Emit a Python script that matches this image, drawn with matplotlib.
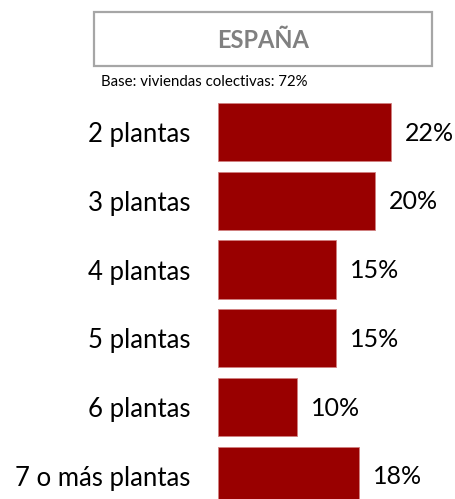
import matplotlib
matplotlib.use("Agg")
import matplotlib.pyplot as plt
from matplotlib.patches import Rectangle
from matplotlib.transforms import offset_copy

categories = ["2 plantas", "3 plantas", "4 plantas", "5 plantas", "6 plantas", "7 o más plantas"]
values = [22, 20, 15, 15, 10, 18]
value_labels = ["22%", "20%", "15%", "15%", "10%", "18%"]
title = "ESPAÑA"
subtitle = "Base: viviendas colectivas: 72%"

plt.rcParams['font.family'] = ['Lato', 'DejaVu Sans']

W, H = 456, 499
fig = plt.figure(figsize=(W / 100, H / 100), dpi=100)

# axes placement in pixels
ax_left, ax_right = 218, 456
ax_top, ax_bottom = 90, 499
ax = fig.add_axes([ax_left / W, 1 - ax_bottom / H, (ax_right - ax_left) / W, (ax_bottom - ax_top) / H])

pos = list(range(len(categories)))
ax.barh(pos, values, height=0.85, color="#990000", edgecolor="#d08080", linewidth=0.6)
ax.set_xlim(0, (ax_right - ax_left) / 7.85)
ax.set_ylim(5.339, -0.614)
ax.set_yticks(pos)
ax.set_yticklabels(categories, fontsize=18.5, color="#000000")
ax.tick_params(axis='y', length=0, pad=20)
ax.set_xticks([])
for s in ax.spines.values():
    s.set_visible(False)

for p, v, lab in zip(pos, values, value_labels):
    tr = offset_copy(ax.transData, fig=fig, x=14, y=-1, units='dots')
    ax.text(v, p, lab, transform=tr, ha='left', va='center', fontsize=18, color="#000000")

# title box
box = Rectangle((94 / W, 1 - 66 / H), (432 - 94) / W, (66 - 12) / H, transform=fig.transFigure,
                fill=False, edgecolor="#a6a6a6", linewidth=1.6)
fig.patches.append(box)
fig.text(263 / W, 1 - 40 / H, title, ha='center', va='center', fontsize=17,
         fontweight='bold', color="#808080")
fig.text(101 / W, 1 - 82 / H, subtitle, ha='left', va='center', fontsize=10.8, color="#000000")

fig.savefig("out.png", dpi=100)
